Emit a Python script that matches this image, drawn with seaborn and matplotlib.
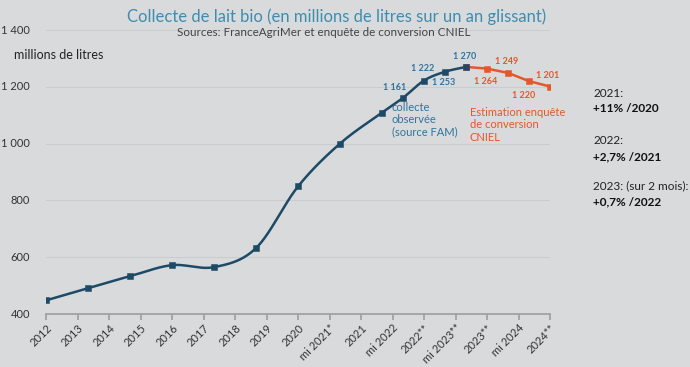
import numpy as np
import pandas as pd
import matplotlib
matplotlib.use("Agg")
import matplotlib.pyplot as plt
import seaborn as sns

categories = ["2012", "2013", "2014", "2015", "2016", "2017", "2018", "2019",
              "2020", "mi 2021*", "2021", "mi 2022", "2022**", "mi 2023**",
              "2023**", "mi 2024", "2024**"]
# time position (years) of each observation
obs_time = [2012, 2013, 2014, 2015, 2016, 2017, 2018, 2019, 2020,
            2020.5, 2021, 2021.5, 2022]
observed = [448, 491, 533, 572, 565, 632, 849, 1000, 1109, 1161, 1222, 1253, 1270]
est_time = [2022, 2022.5, 2023, 2023.5, 2024]
estimated = [1270, 1264, 1249, 1220, 1201]
observed_labels = {9: "1 161", 10: "1 222", 11: "1 253", 12: "1 270"}
estimated_labels = {1: "1 264", 2: "1 249", 3: "1 220", 4: "1 201"}
yticks = [400, 600, 800, 1000, 1200, 1400]
ytick_labels = ["400", "600", "800", "1 000", "1 200", "1 400"]

BLUE = "#1d4a66"
BLUE_TXT = "#2f74a0"
ORANGE = "#e4572a"
BG = "#d9dadb"

sns.set_theme(style="white")
plt.rcParams["font.family"] = ["Lato", "DejaVu Sans"]

fig = plt.figure(figsize=(6.9, 3.67), dpi=100, facecolor=BG)
ax = fig.add_axes([46/690, 1-314/367, (550-46)/690, (314-30)/367])
ax.set_facecolor(BG)

def smooth(xs, ys, n=24):
    xs = np.asarray(xs, float); ys = np.asarray(ys, float)
    px = np.concatenate([[2*xs[0]-xs[1]], xs, [2*xs[-1]-xs[-2]]])
    py = np.concatenate([[2*ys[0]-ys[1]], ys, [2*ys[-1]-ys[-2]]])
    outx, outy = [], []
    t = np.linspace(0, 1, n, endpoint=False)
    for i in range(1, len(px)-2):
        for P, out in ((px, outx), (py, outy)):
            p0, p1, p2, p3 = P[i-1], P[i], P[i+1], P[i+2]
            out.extend(0.5*((2*p1) + (-p0+p2)*t + (2*p0-5*p1+4*p2-p3)*t**2 + (-p0+3*p1-3*p2+p3)*t**3))
    outx.append(xs[-1]); outy.append(ys[-1])
    return np.array(outx), np.array(outy)

df_o = pd.DataFrame({"x": obs_time, "y": observed})
df_e = pd.DataFrame({"x": est_time, "y": estimated})

sx, sy = smooth(obs_time, observed)
ax.plot(sx, sy, color=BLUE, lw=1.8, zorder=3)
ax.plot(est_time, estimated, color=ORANGE, lw=1.8, zorder=3)
sns.scatterplot(data=df_e, x="x", y="y", marker="s", color=ORANGE, s=22,
                edgecolor=ORANGE, ax=ax, zorder=4)
sns.scatterplot(data=df_o, x="x", y="y", marker="s", color=BLUE, s=22,
                edgecolor=BLUE, ax=ax, zorder=5)

# data labels (offsets in points)
offs_o = {9: (-6, 7.5), 10: (-1, 9), 11: (-1, -8), 12: (-1, 7.5)}
for i, lab in observed_labels.items():
    dx, dy = offs_o[i]
    ax.annotate(lab, (obs_time[i], observed[i]), xytext=(dx, dy), textcoords="offset points",
                ha="center", va="center", fontsize=6.5, color=BLUE_TXT, fontweight="bold")
offs_e = {1: (-1, -9.5), 2: (-1, 8), 3: (-4, -10), 4: (-2, 8)}
for i, lab in estimated_labels.items():
    dx, dy = offs_e[i]
    ax.annotate(lab, (est_time[i], estimated[i]), xytext=(dx, dy), textcoords="offset points",
                ha="center", va="center", fontsize=6.5, color=ORANGE, fontweight="bold")

fig.text(392/690, 1-102/367, "collecte\nobservée\n(source FAM)", color=BLUE_TXT, fontsize=8,
         va="top", ha="left", linespacing=1.15)
fig.text(470/690, 1-107/367, "Estimation enquête\nde conversion\nCNIEL", color=ORANGE, fontsize=8,
         va="top", ha="left", linespacing=1.15)

ax.set_xlim(2012, 2024)
ax.set_ylim(400, 1400)
ax.set_yticks(yticks)
ax.set_yticklabels([])
for v, lab in zip(yticks, ytick_labels):
    ax.annotate(lab, xy=(0, v), xycoords=ax.get_yaxis_transform(),
                xytext=(-11.5, 0), textcoords="offset points",
                fontsize=8, color="#333333", ha="right", va="center")
ax.set_xticks(np.linspace(2012, 2024, len(categories)))
ax.set_xticklabels(categories, rotation=45, ha="right", rotation_mode="anchor",
                   fontsize=8, color="#333333")
ax.grid(axis="y", color="#cbcccd", lw=0.8)
ax.grid(axis="x", visible=False)
for s in ["top", "right", "left"]:
    ax.spines[s].set_visible(False)
ax.spines["bottom"].set_color("#a0a0a0")
ax.tick_params(axis="x", bottom=True, length=4, color="#a0a0a0", pad=2)
ax.tick_params(axis="y", left=False)
ax.set_xlabel(""); ax.set_ylabel("")

fig.text(337/690, 1-17/367, "Collecte de lait bio (en millions de litres sur un an glissant)",
         ha="center", va="center", fontsize=12, color="#3e8db0")
fig.text(324/690, 1-33/367, "Sources: FranceAgriMer et enquête de conversion CNIEL",
         ha="center", va="center", fontsize=8.4, color="#444444")
fig.text(14/690, 1-55/367, "millions de litres", ha="left", va="center", fontsize=9, color="#222222")

rx = 593/690
fig.text(rx, 1-93/367, "2021:", fontsize=8.5, color="#222222", va="center")
fig.text(rx, 1-109/367, "+11% /2020", fontsize=8.5, color="#111111", va="center", fontweight="bold")
fig.text(rx, 1-141/367, "2022:", fontsize=8.5, color="#222222", va="center")
fig.text(rx, 1-157/367, "+2,7% /2021", fontsize=8.5, color="#111111", va="center", fontweight="bold")
fig.text(rx, 1-186/367, "2023: (sur 2 mois):", fontsize=8.5, color="#222222", va="center")
fig.text(rx, 1-202/367, "+0,7% /2022", fontsize=8.5, color="#111111", va="center", fontweight="bold")

fig.savefig("out.png", dpi=100, facecolor=BG)
